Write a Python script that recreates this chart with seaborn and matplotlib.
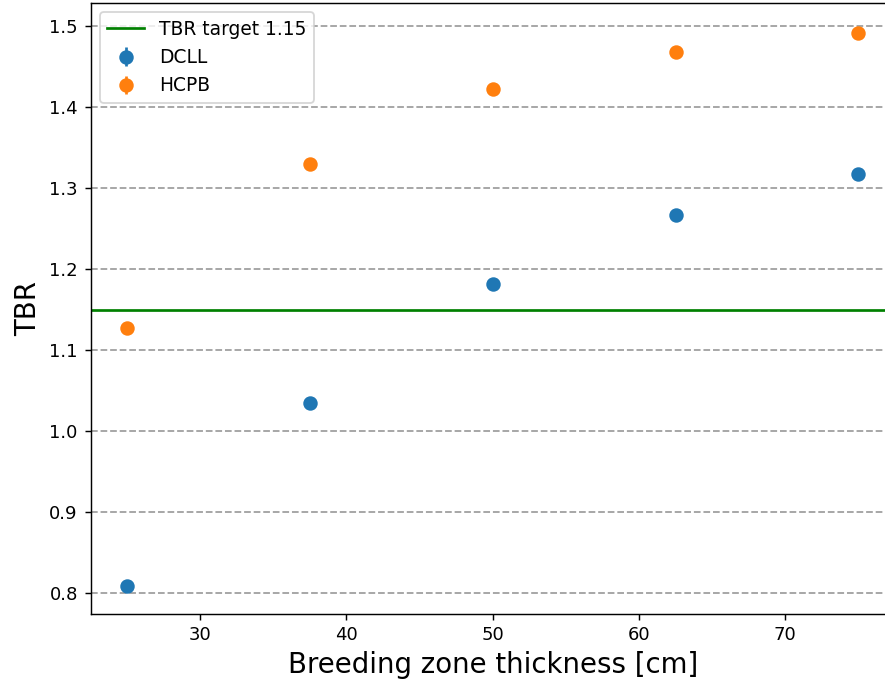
import numpy as np
import pandas as pd
import matplotlib
matplotlib.use("Agg")
import matplotlib.pyplot as plt
import seaborn as sns

# breeding zone thickness [cm]
thickness = [25, 37.5, 50, 62.5, 75]
tbr_dcll = [0.809, 1.035, 1.182, 1.267, 1.318]
tbr_hcpb = [1.128, 1.330, 1.422, 1.468, 1.492]
err_dcll = [0.002, 0.002, 0.002, 0.002, 0.002]
err_hcpb = [0.002, 0.002, 0.002, 0.002, 0.002]
tbr_target = 1.15

df = pd.DataFrame({
    'thickness': thickness * 2,
    'TBR': tbr_dcll + tbr_hcpb,
    'err': err_dcll + err_hcpb,
    'blanket': ['DCLL'] * 5 + ['HCPB'] * 5,
})

colors = sns.color_palette('tab10', 2)

fig = plt.figure(figsize=(885 / 130, 681 / 130), dpi=130)
# axes run a bit past the right edge (the original is cropped there)
ax = fig.add_axes([90.5 / 885, 1 - 613.5 / 681, 804.5 / 885, (613.5 - 3) / 681])

ax.axhline(tbr_target, color='green', lw=1.5, label='TBR target 1.15')
for (name, grp), c in zip(df.groupby('blanket'), colors):
    ax.errorbar(grp['thickness'], grp['TBR'], yerr=grp['err'], fmt='o',
                color=c, ms=7, label=name)

ax.yaxis.grid(True, linestyle='--', color='#a0a0a0', lw=1)
ax.set_axisbelow(True)
ax.spines['right'].set_visible(False)
ax.set_xlim(22.5, 77.5)
ax.set_ylim(0.7753, 1.5284)
ax.set_xlabel('Breeding zone thickness [cm]', fontsize=15.3)
ax.set_ylabel('TBR', fontsize=15.3)
ax.legend(loc='upper left', fontsize=10.3)

fig.savefig('out.png', dpi=130)
